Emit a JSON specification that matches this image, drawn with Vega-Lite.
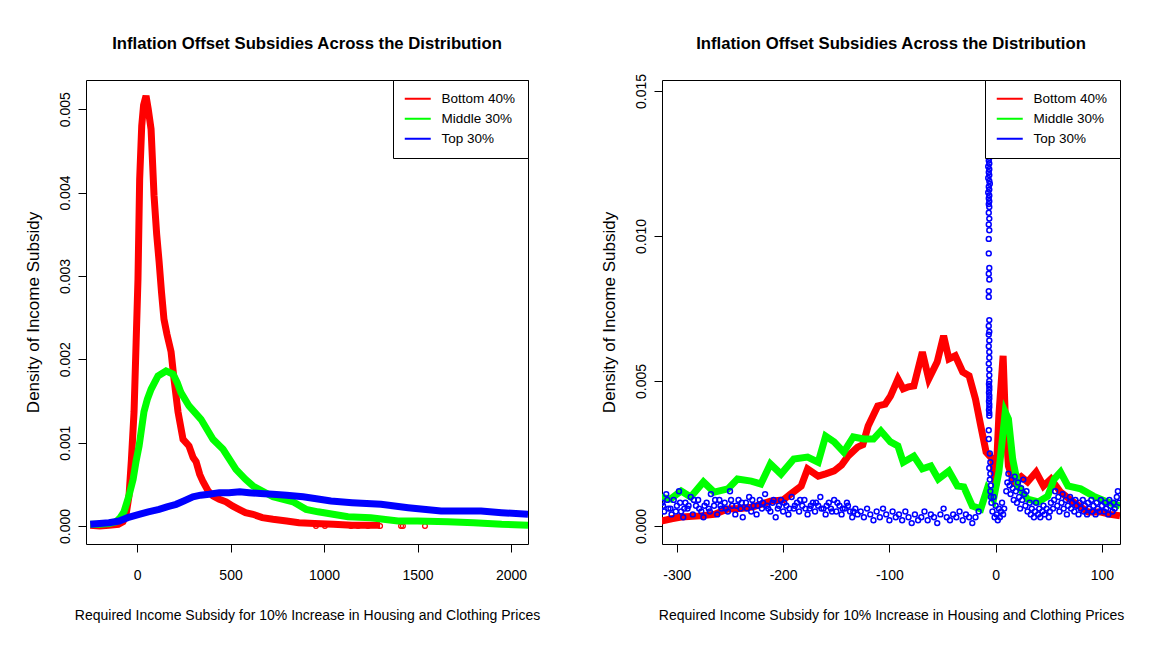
{
  "$schema": "https://vega.github.io/schema/vega-lite/v6.json",
  "background": "white",
  "padding": {"left": 23, "top": 35, "right": 5, "bottom": 5},
  "spacing": 58,
  "config": {
    "font": "Liberation Sans, Arial, sans-serif",
    "view": {"stroke": "black", "strokeWidth": 1},
    "axis": {"grid": false, "domain": false, "tickColor": "black", "tickSize": 8, "tickWidth": 1,
      "labelFontSize": 14, "labelColor": "black", "titleFontSize": 14, "titleColor": "black",
      "titleFontWeight": "normal", "labelPadding": 16, "titlePadding": 26},
    "axisY": {"labelAngle": -90, "labelPadding": 6, "titlePadding": 16, "titleFontSize": 17},
    "title": {"fontSize": 16.7, "fontWeight": "bold", "color": "black", "frame": "group", "anchor": "middle", "baseline": "alphabetic"},
    "legend": {"orient": "top-right", "offset": 0, "title": null, "symbolType": "M-2.6,0H2.6", "symbolSize": 100,
      "symbolStrokeWidth": 2, "symbolOffset": 6, "strokeColor": "black", "fillColor": "white", "padding": 12,
      "rowPadding": 5, "labelFontSize": 13.5, "labelColor": "black", "labelOffset": 17, "cornerRadius": 0}
  },
  "datasets": {
    "leftRed": [
      {"subsidy": -250, "density": 0.00001}, {"subsidy": -200, "density": 0.0}, {"subsidy": -150, "density": 0.00001},
      {"subsidy": -100, "density": 0.00002}, {"subsidy": -75, "density": 0.00005}, {"subsidy": -60, "density": 0.00012},
      {"subsidy": -43, "density": 0.00036}, {"subsidy": -30, "density": 0.0008}, {"subsidy": -16, "density": 0.00137},
      {"subsidy": -5, "density": 0.0022}, {"subsidy": 5, "density": 0.00296}, {"subsidy": 14, "density": 0.00416},
      {"subsidy": 25, "density": 0.0048}, {"subsidy": 35, "density": 0.00505}, {"subsidy": 48, "density": 0.00516},
      {"subsidy": 60, "density": 0.005}, {"subsidy": 75, "density": 0.00476}, {"subsidy": 91, "density": 0.00396},
      {"subsidy": 105, "density": 0.0035}, {"subsidy": 118, "density": 0.00317}, {"subsidy": 131, "density": 0.0028},
      {"subsidy": 144, "density": 0.00248}, {"subsidy": 160, "density": 0.0023}, {"subsidy": 182, "density": 0.00209},
      {"subsidy": 198, "density": 0.00176}, {"subsidy": 219, "density": 0.00137}, {"subsidy": 246, "density": 0.00104},
      {"subsidy": 262, "density": 0.001}, {"subsidy": 278, "density": 0.00096}, {"subsidy": 300, "density": 0.00082},
      {"subsidy": 316, "density": 0.00077}, {"subsidy": 335, "density": 0.00062}, {"subsidy": 353, "density": 0.00053},
      {"subsidy": 380, "density": 0.00042}, {"subsidy": 406, "density": 0.00036}, {"subsidy": 440, "density": 0.00032},
      {"subsidy": 476, "density": 0.00029}, {"subsidy": 510, "density": 0.00024}, {"subsidy": 545, "density": 0.0002},
      {"subsidy": 580, "density": 0.00016}, {"subsidy": 620, "density": 0.00014}, {"subsidy": 670, "density": 0.0001},
      {"subsidy": 727, "density": 0.00008}, {"subsidy": 800, "density": 0.00006}, {"subsidy": 866, "density": 0.00004},
      {"subsidy": 950, "density": 0.00003}, {"subsidy": 1050, "density": 0.00002}, {"subsidy": 1150, "density": 0.00001},
      {"subsidy": 1250, "density": 0.00001}, {"subsidy": 1300, "density": 0.00001}
    ],
    "leftRedPts": [
      {"subsidy": 957, "density": 0.0}, {"subsidy": 1005, "density": 0.0}, {"subsidy": 1144, "density": 0.0},
      {"subsidy": 1182, "density": 0.0}, {"subsidy": 1235, "density": 0.0}, {"subsidy": 1300, "density": 0.0},
      {"subsidy": 1412, "density": 0.0}, {"subsidy": 1422, "density": 0.0}, {"subsidy": 1540, "density": 0.0}
    ],
    "leftGreen": [
      {"subsidy": -250, "density": 0.00002}, {"subsidy": -200, "density": 0.00002}, {"subsidy": -150, "density": 0.00003},
      {"subsidy": -112, "density": 0.00005}, {"subsidy": -90, "density": 0.0001}, {"subsidy": -70, "density": 0.00017},
      {"subsidy": -45, "density": 0.00035}, {"subsidy": -21, "density": 0.00056}, {"subsidy": -5, "density": 0.00078},
      {"subsidy": 11, "density": 0.00096}, {"subsidy": 37, "density": 0.00137}, {"subsidy": 55, "density": 0.00152},
      {"subsidy": 75, "density": 0.00164}, {"subsidy": 112, "density": 0.0018}, {"subsidy": 155, "density": 0.00186},
      {"subsidy": 193, "density": 0.00182}, {"subsidy": 215, "density": 0.00172}, {"subsidy": 235, "density": 0.0016},
      {"subsidy": 278, "density": 0.00144}, {"subsidy": 342, "density": 0.00128}, {"subsidy": 406, "density": 0.00104},
      {"subsidy": 460, "density": 0.00092}, {"subsidy": 529, "density": 0.00068}, {"subsidy": 580, "density": 0.00056},
      {"subsidy": 620, "density": 0.00048}, {"subsidy": 727, "density": 0.00035}, {"subsidy": 834, "density": 0.00029},
      {"subsidy": 904, "density": 0.0002}, {"subsidy": 968, "density": 0.00017}, {"subsidy": 1128, "density": 0.00011},
      {"subsidy": 1250, "density": 0.0001}, {"subsidy": 1396, "density": 0.00006}, {"subsidy": 1500, "density": 0.00006},
      {"subsidy": 1663, "density": 0.00005}, {"subsidy": 1800, "density": 0.00004}, {"subsidy": 1950, "density": 0.00002},
      {"subsidy": 2091, "density": 0.00001}
    ],
    "leftBlue": [
      {"subsidy": -250, "density": 0.00002}, {"subsidy": -200, "density": 0.00003}, {"subsidy": -150, "density": 0.00004},
      {"subsidy": -96, "density": 0.00006}, {"subsidy": -50, "density": 0.0001}, {"subsidy": 11, "density": 0.00014},
      {"subsidy": 60, "density": 0.00017}, {"subsidy": 118, "density": 0.0002}, {"subsidy": 160, "density": 0.00023},
      {"subsidy": 209, "density": 0.00026}, {"subsidy": 250, "density": 0.0003}, {"subsidy": 299, "density": 0.00035},
      {"subsidy": 340, "density": 0.00037}, {"subsidy": 385, "density": 0.00038}, {"subsidy": 440, "density": 0.0004},
      {"subsidy": 492, "density": 0.0004}, {"subsidy": 550, "density": 0.00041}, {"subsidy": 599, "density": 0.0004},
      {"subsidy": 660, "density": 0.00039}, {"subsidy": 727, "density": 0.00038}, {"subsidy": 800, "density": 0.00037},
      {"subsidy": 888, "density": 0.00035}, {"subsidy": 950, "density": 0.00033}, {"subsidy": 1037, "density": 0.0003},
      {"subsidy": 1150, "density": 0.00028}, {"subsidy": 1305, "density": 0.00026}, {"subsidy": 1450, "density": 0.00022},
      {"subsidy": 1626, "density": 0.00018}, {"subsidy": 1750, "density": 0.00018}, {"subsidy": 1840, "density": 0.00018},
      {"subsidy": 1950, "density": 0.00016}, {"subsidy": 2091, "density": 0.00014}
    ],
    "rightRed": [
      {"subsidy": -315, "density": 0.00017}, {"subsidy": -305, "density": 0.00025}, {"subsidy": -296, "density": 0.00031},
      {"subsidy": -278, "density": 0.00035}, {"subsidy": -265, "density": 0.0004}, {"subsidy": -252, "density": 0.00059},
      {"subsidy": -240, "density": 0.0006}, {"subsidy": -228, "density": 0.00066}, {"subsidy": -212, "density": 0.00086},
      {"subsidy": -200, "density": 0.0009}, {"subsidy": -193, "density": 0.0011}, {"subsidy": -183, "density": 0.00138},
      {"subsidy": -177, "density": 0.00197}, {"subsidy": -167, "density": 0.00172}, {"subsidy": -160, "density": 0.0018},
      {"subsidy": -152, "density": 0.0019}, {"subsidy": -145, "density": 0.0021}, {"subsidy": -139, "density": 0.00241},
      {"subsidy": -130, "density": 0.00272}, {"subsidy": -125, "density": 0.0028}, {"subsidy": -120, "density": 0.00345},
      {"subsidy": -111, "density": 0.00414}, {"subsidy": -104, "density": 0.0042}, {"subsidy": -99, "density": 0.00448},
      {"subsidy": -92, "density": 0.00507}, {"subsidy": -87, "density": 0.00473}, {"subsidy": -82, "density": 0.0048},
      {"subsidy": -77, "density": 0.00483}, {"subsidy": -69, "density": 0.006}, {"subsidy": -63, "density": 0.00507},
      {"subsidy": -55, "density": 0.00566}, {"subsidy": -49, "density": 0.00656}, {"subsidy": -44, "density": 0.00576},
      {"subsidy": -38, "density": 0.00587}, {"subsidy": -31, "density": 0.00531}, {"subsidy": -25, "density": 0.00518},
      {"subsidy": -19, "density": 0.00438}, {"subsidy": -14, "density": 0.00345}, {"subsidy": -9, "density": 0.00255},
      {"subsidy": -3, "density": 0.00231}, {"subsidy": 0, "density": 0.00138}, {"subsidy": 3, "density": 0.0038},
      {"subsidy": 7, "density": 0.00587}, {"subsidy": 9, "density": 0.0038}, {"subsidy": 12, "density": 0.00207},
      {"subsidy": 17, "density": 0.00152}, {"subsidy": 24, "density": 0.0017}, {"subsidy": 30, "density": 0.00152},
      {"subsidy": 38, "density": 0.00186}, {"subsidy": 45, "density": 0.00138}, {"subsidy": 52, "density": 0.00162},
      {"subsidy": 61, "density": 0.00117}, {"subsidy": 73, "density": 0.00083}, {"subsidy": 87, "density": 0.00048},
      {"subsidy": 99, "density": 0.00048}, {"subsidy": 108, "density": 0.0004}, {"subsidy": 117, "density": 0.00035}
    ],
    "rightGreen": [
      {"subsidy": -315, "density": 0.001}, {"subsidy": -306, "density": 0.00093}, {"subsidy": -296, "density": 0.00121},
      {"subsidy": -287, "density": 0.001}, {"subsidy": -275, "density": 0.00152}, {"subsidy": -265, "density": 0.00117},
      {"subsidy": -252, "density": 0.00128}, {"subsidy": -243, "density": 0.00162}, {"subsidy": -230, "density": 0.00155},
      {"subsidy": -221, "density": 0.00145}, {"subsidy": -212, "density": 0.00214}, {"subsidy": -202, "density": 0.00179},
      {"subsidy": -190, "density": 0.00231}, {"subsidy": -177, "density": 0.00238}, {"subsidy": -167, "density": 0.0022},
      {"subsidy": -160, "density": 0.0031}, {"subsidy": -152, "density": 0.0029}, {"subsidy": -143, "density": 0.00255},
      {"subsidy": -134, "density": 0.00307}, {"subsidy": -124, "density": 0.003}, {"subsidy": -115, "density": 0.003},
      {"subsidy": -108, "density": 0.00328}, {"subsidy": -99, "density": 0.0029}, {"subsidy": -92, "density": 0.00276},
      {"subsidy": -87, "density": 0.0022}, {"subsidy": -77, "density": 0.00241}, {"subsidy": -69, "density": 0.00197},
      {"subsidy": -61, "density": 0.00207}, {"subsidy": -54, "density": 0.00162}, {"subsidy": -44, "density": 0.0019},
      {"subsidy": -36, "density": 0.00138}, {"subsidy": -30, "density": 0.00135}, {"subsidy": -22, "density": 0.00069},
      {"subsidy": -14, "density": 0.00059}, {"subsidy": -8, "density": 0.00128}, {"subsidy": -2, "density": 0.00093},
      {"subsidy": 3, "density": 0.00186}, {"subsidy": 9, "density": 0.00393}, {"subsidy": 12, "density": 0.00369},
      {"subsidy": 16, "density": 0.00231}, {"subsidy": 21, "density": 0.00138}, {"subsidy": 30, "density": 0.00093},
      {"subsidy": 40, "density": 0.00083}, {"subsidy": 49, "density": 0.00103}, {"subsidy": 55, "density": 0.00162},
      {"subsidy": 61, "density": 0.00186}, {"subsidy": 68, "density": 0.00138}, {"subsidy": 80, "density": 0.00128},
      {"subsidy": 92, "density": 0.00103}, {"subsidy": 105, "density": 0.00083}, {"subsidy": 117, "density": 0.00069}
    ],
    "rightBlue": [
      {"subsidy": -314, "density": 0.0008}, {"subsidy": -312, "density": 0.0005}, {"subsidy": -310, "density": 0.0011},
      {"subsidy": -308, "density": 0.0006}, {"subsidy": -305, "density": 0.0004}, {"subsidy": -303, "density": 0.0009},
      {"subsidy": -300, "density": 0.0007}, {"subsidy": -298, "density": 0.0012}, {"subsidy": -296, "density": 0.0005},
      {"subsidy": -294, "density": 0.0003}, {"subsidy": -292, "density": 0.0008}, {"subsidy": -290, "density": 0.0006},
      {"subsidy": -287, "density": 0.001}, {"subsidy": -285, "density": 0.0004}, {"subsidy": -282, "density": 0.0007},
      {"subsidy": -280, "density": 0.0009}, {"subsidy": -277, "density": 0.0005}, {"subsidy": -275, "density": 0.0003},
      {"subsidy": -272, "density": 0.0008}, {"subsidy": -270, "density": 0.0006}, {"subsidy": -268, "density": 0.0011},
      {"subsidy": -265, "density": 0.0007}, {"subsidy": -262, "density": 0.0004}, {"subsidy": -260, "density": 0.0009},
      {"subsidy": -258, "density": 0.0006}, {"subsidy": -255, "density": 0.0008}, {"subsidy": -252, "density": 0.0005},
      {"subsidy": -250, "density": 0.0012}, {"subsidy": -248, "density": 0.0007}, {"subsidy": -245, "density": 0.0004},
      {"subsidy": -242, "density": 0.0009}, {"subsidy": -240, "density": 0.0006}, {"subsidy": -238, "density": 0.0003},
      {"subsidy": -235, "density": 0.0008}, {"subsidy": -232, "density": 0.001}, {"subsidy": -230, "density": 0.0005},
      {"subsidy": -228, "density": 0.0007}, {"subsidy": -225, "density": 0.0004}, {"subsidy": -222, "density": 0.0009},
      {"subsidy": -220, "density": 0.0006}, {"subsidy": -217, "density": 0.0011}, {"subsidy": -215, "density": 0.0007},
      {"subsidy": -212, "density": 0.0005}, {"subsidy": -210, "density": 0.0008}, {"subsidy": -207, "density": 0.0003},
      {"subsidy": -205, "density": 0.0006}, {"subsidy": -202, "density": 0.0009}, {"subsidy": -200, "density": 0.0005},
      {"subsidy": -197, "density": 0.0007}, {"subsidy": -195, "density": 0.0004}, {"subsidy": -192, "density": 0.001},
      {"subsidy": -190, "density": 0.0006}, {"subsidy": -187, "density": 0.0008}, {"subsidy": -185, "density": 0.0005},
      {"subsidy": -182, "density": 0.0007}, {"subsidy": -180, "density": 0.0009}, {"subsidy": -177, "density": 0.0004},
      {"subsidy": -175, "density": 0.0006}, {"subsidy": -172, "density": 0.0008}, {"subsidy": -170, "density": 0.0005},
      {"subsidy": -167, "density": 0.0007}, {"subsidy": -165, "density": 0.001}, {"subsidy": -162, "density": 0.0006},
      {"subsidy": -160, "density": 0.0004}, {"subsidy": -157, "density": 0.0008}, {"subsidy": -155, "density": 0.0006},
      {"subsidy": -152, "density": 0.0009}, {"subsidy": -150, "density": 0.0005}, {"subsidy": -147, "density": 0.0007},
      {"subsidy": -145, "density": 0.0004}, {"subsidy": -142, "density": 0.0006}, {"subsidy": -140, "density": 0.0008},
      {"subsidy": -137, "density": 0.0005}, {"subsidy": -135, "density": 0.0003}, {"subsidy": -132, "density": 0.0006},
      {"subsidy": -130, "density": 0.0004},
      {"subsidy": -313, "density": 0.0007}, {"subsidy": -309, "density": 0.0009}, {"subsidy": -306, "density": 0.0006},
      {"subsidy": -301, "density": 0.0005}, {"subsidy": -297, "density": 0.0008}, {"subsidy": -293, "density": 0.0006},
      {"subsidy": -289, "density": 0.0007}, {"subsidy": -284, "density": 0.0009}, {"subsidy": -279, "density": 0.0006},
      {"subsidy": -274, "density": 0.0007}, {"subsidy": -269, "density": 0.0005}, {"subsidy": -264, "density": 0.0009},
      {"subsidy": -259, "density": 0.0007}, {"subsidy": -254, "density": 0.0006}, {"subsidy": -249, "density": 0.0009},
      {"subsidy": -244, "density": 0.0007}, {"subsidy": -239, "density": 0.0008}, {"subsidy": -234, "density": 0.0006},
      {"subsidy": -229, "density": 0.0009}, {"subsidy": -224, "density": 0.0007}, {"subsidy": -219, "density": 0.0008},
      {"subsidy": -214, "density": 0.0006}, {"subsidy": -209, "density": 0.0009}, {"subsidy": -204, "density": 0.0007},
      {"subsidy": -199, "density": 0.0008}, {"subsidy": -194, "density": 0.0006}, {"subsidy": -189, "density": 0.0007},
      {"subsidy": -184, "density": 0.0009}, {"subsidy": -179, "density": 0.0006}, {"subsidy": -174, "density": 0.0007},
      {"subsidy": -169, "density": 0.0008}, {"subsidy": -164, "density": 0.0006}, {"subsidy": -159, "density": 0.0007},
      {"subsidy": -154, "density": 0.0005}, {"subsidy": -149, "density": 0.0008}, {"subsidy": -144, "density": 0.0006},
      {"subsidy": -139, "density": 0.0007}, {"subsidy": -134, "density": 0.0005},
      {"subsidy": -127, "density": 0.0005}, {"subsidy": -124, "density": 0.0003},
      {"subsidy": -121, "density": 0.0006}, {"subsidy": -118, "density": 0.0004}, {"subsidy": -115, "density": 0.0002},
      {"subsidy": -112, "density": 0.0005}, {"subsidy": -109, "density": 0.0003}, {"subsidy": -106, "density": 0.0006},
      {"subsidy": -103, "density": 0.0004}, {"subsidy": -100, "density": 0.0002}, {"subsidy": -97, "density": 0.0005},
      {"subsidy": -94, "density": 0.0003}, {"subsidy": -91, "density": 0.0004}, {"subsidy": -88, "density": 0.0002},
      {"subsidy": -85, "density": 0.0005}, {"subsidy": -82, "density": 0.0003}, {"subsidy": -79, "density": 0.0001},
      {"subsidy": -76, "density": 0.0004}, {"subsidy": -73, "density": 0.0002}, {"subsidy": -70, "density": 0.0003},
      {"subsidy": -67, "density": 0.0005}, {"subsidy": -64, "density": 0.0002}, {"subsidy": -61, "density": 0.0004},
      {"subsidy": -58, "density": 0.0003}, {"subsidy": -55, "density": 0.0001}, {"subsidy": -52, "density": 0.0004},
      {"subsidy": -49, "density": 0.0006}, {"subsidy": -46, "density": 0.0003}, {"subsidy": -43, "density": 0.0002},
      {"subsidy": -40, "density": 0.0004}, {"subsidy": -37, "density": 0.0003}, {"subsidy": -34, "density": 0.0005},
      {"subsidy": -31, "density": 0.0002}, {"subsidy": -28, "density": 0.0004}, {"subsidy": -25, "density": 0.0003},
      {"subsidy": -22, "density": 0.0001}, {"subsidy": -19, "density": 0.0003}, {"subsidy": -16, "density": 0.0005},
      {"subsidy": -6, "density": 0.0127}, {"subsidy": -6.5, "density": 0.0126}, {"subsidy": -6, "density": 0.0125},
      {"subsidy": -7, "density": 0.0124}, {"subsidy": -6, "density": 0.0123}, {"subsidy": -6.5, "density": 0.0122},
      {"subsidy": -6, "density": 0.0121}, {"subsidy": -7, "density": 0.012}, {"subsidy": -6, "density": 0.0119},
      {"subsidy": -5.5, "density": 0.0118}, {"subsidy": -6.5, "density": 0.0117}, {"subsidy": -6, "density": 0.0116},
      {"subsidy": -7, "density": 0.0115}, {"subsidy": -6, "density": 0.0114}, {"subsidy": -6.5, "density": 0.0113},
      {"subsidy": -6, "density": 0.0112}, {"subsidy": -6.5, "density": 0.0111}, {"subsidy": -6, "density": 0.011},
      {"subsidy": -6.5, "density": 0.0108}, {"subsidy": -6, "density": 0.0106}, {"subsidy": -6.5, "density": 0.0104},
      {"subsidy": -6, "density": 0.0102}, {"subsidy": -6.5, "density": 0.0099}, {"subsidy": -6.5, "density": 0.0094},
      {"subsidy": -6, "density": 0.0089}, {"subsidy": -6.5, "density": 0.0087}, {"subsidy": -6, "density": 0.0085},
      {"subsidy": -6.5, "density": 0.0081}, {"subsidy": -6.5, "density": 0.0079}, {"subsidy": -6, "density": 0.0071},
      {"subsidy": -6.5, "density": 0.0069}, {"subsidy": -6, "density": 0.0067}, {"subsidy": -6.5, "density": 0.0066},
      {"subsidy": -6, "density": 0.0064}, {"subsidy": -6.5, "density": 0.0062}, {"subsidy": -6, "density": 0.006},
      {"subsidy": -6, "density": 0.0058}, {"subsidy": -6.5, "density": 0.0056}, {"subsidy": -6, "density": 0.0054},
      {"subsidy": -6, "density": 0.0052}, {"subsidy": -6, "density": 0.005}, {"subsidy": -6.3, "density": 0.0049},
      {"subsidy": -6, "density": 0.0048}, {"subsidy": -6, "density": 0.0047}, {"subsidy": -6.3, "density": 0.0046},
      {"subsidy": -6, "density": 0.0045}, {"subsidy": -6, "density": 0.0044}, {"subsidy": -6.3, "density": 0.0043},
      {"subsidy": -6, "density": 0.0042}, {"subsidy": -6, "density": 0.0041}, {"subsidy": -6.3, "density": 0.004},
      {"subsidy": -6, "density": 0.0039}, {"subsidy": -6, "density": 0.0038}, {"subsidy": -6.5, "density": 0.0033},
      {"subsidy": -6.5, "density": 0.003}, {"subsidy": -5.5, "density": 0.0025}, {"subsidy": -5, "density": 0.0022},
      {"subsidy": -6, "density": 0.002}, {"subsidy": -5, "density": 0.0018}, {"subsidy": -5.5, "density": 0.0016},
      {"subsidy": -4.5, "density": 0.0014}, {"subsidy": -5, "density": 0.0012}, {"subsidy": -4.5, "density": 0.001},
      {"subsidy": -4, "density": 0.0008}, {"subsidy": -3, "density": 0.0005}, {"subsidy": -2, "density": 0.001},
      {"subsidy": -1, "density": 0.0003}, {"subsidy": 0, "density": 0.0007}, {"subsidy": 1, "density": 0.0004},
      {"subsidy": 2, "density": 0.0002}, {"subsidy": 3, "density": 0.0006}, {"subsidy": 4, "density": 0.0003},
      {"subsidy": 5, "density": 0.0005}, {"subsidy": 6, "density": 0.0008}, {"subsidy": 7, "density": 0.0004},
      {"subsidy": 8, "density": 0.0006}, {"subsidy": 10, "density": 0.0012}, {"subsidy": 11, "density": 0.0015},
      {"subsidy": 12, "density": 0.0018}, {"subsidy": 13, "density": 0.0014}, {"subsidy": 14, "density": 0.0011},
      {"subsidy": 15, "density": 0.0016}, {"subsidy": 16, "density": 0.0013}, {"subsidy": 17, "density": 0.0009},
      {"subsidy": 18, "density": 0.0017}, {"subsidy": 19, "density": 0.0012}, {"subsidy": 20, "density": 0.0008},
      {"subsidy": 21, "density": 0.0015}, {"subsidy": 22, "density": 0.001}, {"subsidy": 23, "density": 0.0006},
      {"subsidy": 24, "density": 0.0013}, {"subsidy": 25, "density": 0.0009}, {"subsidy": 26, "density": 0.0016},
      {"subsidy": 27, "density": 0.0011}, {"subsidy": 28, "density": 0.0007}, {"subsidy": 29, "density": 0.0012},
      {"subsidy": 30, "density": 0.0005}, {"subsidy": 32, "density": 0.0008}, {"subsidy": 33, "density": 0.0004},
      {"subsidy": 34, "density": 0.0006}, {"subsidy": 36, "density": 0.0003}, {"subsidy": 37, "density": 0.0005},
      {"subsidy": 38, "density": 0.0008}, {"subsidy": 40, "density": 0.0004}, {"subsidy": 41, "density": 0.0006},
      {"subsidy": 42, "density": 0.0003}, {"subsidy": 44, "density": 0.0005}, {"subsidy": 45, "density": 0.0007},
      {"subsidy": 46, "density": 0.0004}, {"subsidy": 48, "density": 0.0006}, {"subsidy": 50, "density": 0.0003},
      {"subsidy": 51, "density": 0.0005}, {"subsidy": 52, "density": 0.0008}, {"subsidy": 54, "density": 0.0006},
      {"subsidy": 55, "density": 0.0009}, {"subsidy": 56, "density": 0.0012}, {"subsidy": 58, "density": 0.0007},
      {"subsidy": 59, "density": 0.001}, {"subsidy": 60, "density": 0.0005}, {"subsidy": 62, "density": 0.0008},
      {"subsidy": 63, "density": 0.0011}, {"subsidy": 64, "density": 0.0006}, {"subsidy": 66, "density": 0.0009},
      {"subsidy": 67, "density": 0.0004}, {"subsidy": 68, "density": 0.0007}, {"subsidy": 70, "density": 0.001},
      {"subsidy": 71, "density": 0.0006}, {"subsidy": 72, "density": 0.0008}, {"subsidy": 74, "density": 0.0005},
      {"subsidy": 75, "density": 0.0009}, {"subsidy": 76, "density": 0.0007}, {"subsidy": 78, "density": 0.0004},
      {"subsidy": 79, "density": 0.0008}, {"subsidy": 80, "density": 0.0006}, {"subsidy": 82, "density": 0.0009},
      {"subsidy": 83, "density": 0.0005}, {"subsidy": 84, "density": 0.0007}, {"subsidy": 86, "density": 0.0004},
      {"subsidy": 87, "density": 0.0008}, {"subsidy": 88, "density": 0.0006}, {"subsidy": 90, "density": 0.0009},
      {"subsidy": 91, "density": 0.0005}, {"subsidy": 92, "density": 0.0007}, {"subsidy": 94, "density": 0.0004},
      {"subsidy": 95, "density": 0.0008}, {"subsidy": 96, "density": 0.0006}, {"subsidy": 98, "density": 0.0005},
      {"subsidy": 99, "density": 0.0009}, {"subsidy": 100, "density": 0.0007}, {"subsidy": 102, "density": 0.0005},
      {"subsidy": 103, "density": 0.0008}, {"subsidy": 104, "density": 0.0006}, {"subsidy": 106, "density": 0.0004},
      {"subsidy": 107, "density": 0.0009}, {"subsidy": 108, "density": 0.0007}, {"subsidy": 110, "density": 0.0005},
      {"subsidy": 111, "density": 0.0008}, {"subsidy": 112, "density": 0.0006}, {"subsidy": 114, "density": 0.001},
      {"subsidy": 115, "density": 0.0012}, {"subsidy": 116, "density": 0.0008}
    ]
  },
  "hconcat": [
    {
      "width": 442,
      "height": 464,
      "title": {"text": "Inflation Offset Subsidies Across the Distribution", "offset": 27},
      "encoding": {
        "x": {"field": "subsidy", "type": "quantitative",
          "scale": {"domain": [-273, 2091], "nice": false, "zero": false},
          "axis": {"values": [0, 500, 1000, 1500, 2000], "format": "d",
            "title": "Required Income Subsidy for 10% Increase in Housing and Clothing Prices"}},
        "y": {"field": "density", "type": "quantitative",
          "scale": {"domain": [-0.000216, 0.00535], "nice": false, "zero": false},
          "axis": {"values": [0, 0.001, 0.002, 0.003, 0.004, 0.005], "format": ".3f",
            "title": "Density of Income Subsidy"}}
      },
      "layer": [
        {"data": {"name": "leftRed"}, "mark": {"type": "line", "strokeWidth": 7, "clip": true},
          "encoding": {"color": {"datum": "Bottom 40%", "type": "nominal",
            "scale": {"domain": ["Bottom 40%", "Middle 30%", "Top 30%"], "range": ["#ff0000", "#00ff00", "#0000ff"]}}}},
        {"data": {"name": "leftRedPts"}, "mark": {"type": "point", "shape": "circle", "filled": false, "size": 22, "strokeWidth": 1.3, "opacity": 1, "clip": true},
          "encoding": {"color": {"datum": "Bottom 40%", "type": "nominal"}}},
        {"data": {"name": "leftGreen"}, "mark": {"type": "line", "strokeWidth": 7, "clip": true},
          "encoding": {"color": {"datum": "Middle 30%", "type": "nominal"}}},
        {"data": {"name": "leftBlue"}, "mark": {"type": "line", "strokeWidth": 7, "clip": true},
          "encoding": {"color": {"datum": "Top 30%", "type": "nominal"}}}
      ]
    },
    {
      "width": 458,
      "height": 464,
      "title": {"text": "Inflation Offset Subsidies Across the Distribution", "offset": 21},
      "encoding": {
        "x": {"field": "subsidy", "type": "quantitative",
          "scale": {"domain": [-314, 117], "nice": false, "zero": false},
          "axis": {"values": [-300, -200, -100, 0, 100], "labelExpr": "toString(datum.value)",
            "title": "Required Income Subsidy for 10% Increase in Housing and Clothing Prices"}},
        "y": {"field": "density", "type": "quantitative",
          "scale": {"domain": [-0.00062, 0.01538], "nice": false, "zero": false},
          "axis": {"values": [0, 0.005, 0.01, 0.015], "format": ".3f",
            "title": "Density of Income Subsidy"}}
      },
      "layer": [
        {"data": {"name": "rightRed"}, "mark": {"type": "line", "strokeWidth": 7, "clip": true},
          "encoding": {"color": {"datum": "Bottom 40%", "type": "nominal",
            "scale": {"domain": ["Bottom 40%", "Middle 30%", "Top 30%"], "range": ["#ff0000", "#00ff00", "#0000ff"]}}}},
        {"data": {"name": "rightGreen"}, "mark": {"type": "line", "strokeWidth": 7, "clip": true},
          "encoding": {"color": {"datum": "Middle 30%", "type": "nominal"}}},
        {"data": {"name": "rightBlue"}, "mark": {"type": "point", "shape": "circle", "filled": false, "size": 24, "strokeWidth": 1.5, "opacity": 1, "clip": true},
          "encoding": {"color": {"datum": "Top 30%", "type": "nominal"}}}
      ]
    }
  ],
  "resolve": {"scale": {"color": "independent"}, "legend": {"color": "independent"}}
}
